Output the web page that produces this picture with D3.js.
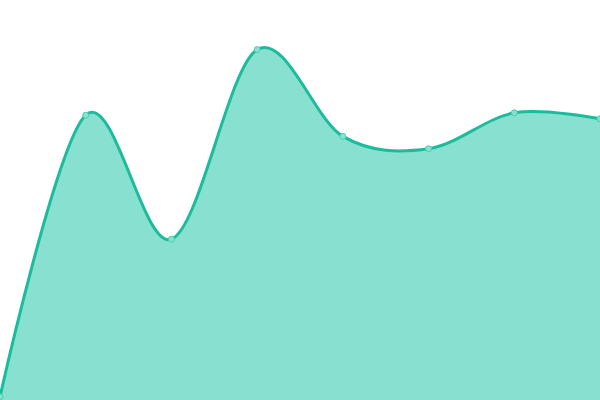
<!DOCTYPE html>
<html>
<head>
<meta charset="utf-8">
<script src="https://cdn.jsdelivr.net/npm/d3@7"></script>
<style>
  body { margin: 0; background: #fff; }
  svg { display: block; }
</style>
</head>
<body>
<script>
var w = 600,
    h = 400;

// values (0-100 scale)
var labels = ['1', '2', '3', '4', '5', '6', '7', '8'];
var values = [0.8, 71.2, 40.2, 87.6, 65.9, 62.8, 71.8, 70.3];

var xScale = d3.scalePoint()
               .domain(labels)
               .range([0, w]);

var yScale = d3.scaleLinear()
               .domain([0, 100])
               .range([h, 0]);

var svg = d3.select('body')
            .append('svg')
            .attr('width', w)
            .attr('height', h);

var curve = d3.curveCardinal.tension(0);

var area = d3.area()
             .x(function(d, i) { return xScale(labels[i]); })
             .y0(yScale(0))
             .y1(function(d) { return yScale(d); })
             .curve(curve);

var line = d3.line()
             .x(function(d, i) { return xScale(labels[i]); })
             .y(function(d) { return yScale(d); })
             .curve(curve);

svg.append('path')
   .datum(values)
   .attr('fill', '#88e0d0')
   .attr('d', area);

svg.append('path')
   .datum(values)
   .attr('fill', 'none')
   .attr('stroke', '#1abc9c')
   .attr('stroke-width', 3)
   .attr('d', line);

svg.selectAll('circle')
   .data(values)
   .enter()
   .append('circle')
   .attr('cx', function(d, i) { return xScale(labels[i]); })
   .attr('cy', function(d) { return yScale(d); })
   .attr('r', 3)
   .attr('fill', '#88e0d0')
   .attr('stroke', '#48cfae')
   .attr('stroke-width', 1);
</script>
</body>
</html>
